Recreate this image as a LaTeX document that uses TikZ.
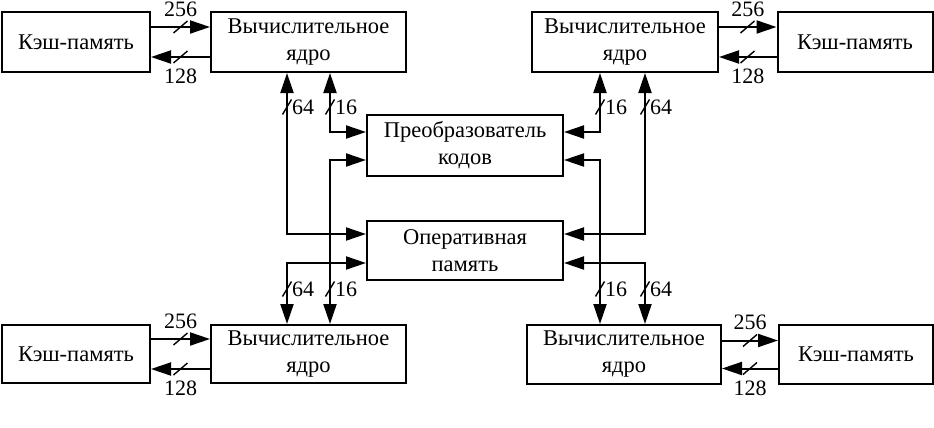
\documentclass[tikz,border=0pt]{standalone}
\usepackage{fontspec}
\setmainfont{Liberation Serif}
\usetikzlibrary{arrows.meta}
\tikzset{
	block/.style={draw, line width=2pt, inner sep=0pt, align=center, font=\fontsize{22.5}{27}\selectfont},
	bus/.style={line width=2pt, -{Triangle[length=20pt,width=13pt]}},
	bibus/.style={line width=2pt, {Triangle[length=20pt,width=13pt]}-{Triangle[length=20pt,width=13pt]}},
	num/.style={inner sep=0pt, font=\fontsize{22}{24}\selectfont},
	buswidth/.style={line width=1.4pt}
}
\begin{document}
\begin{tikzpicture}[x=1pt,y=-1pt]
		\useasboundingbox (0,0) rectangle (934,428);
		% top row
		\node[block, minimum width=148pt, minimum height=60pt] (cacheTL) at (76,42) {Кэш-память};
		\node[block, minimum width=195pt, minimum height=60pt] (coreTL) at (308.5,42) {Вычислительное\\ядро};
		\node[block, minimum width=186pt, minimum height=60pt] (coreTR) at (625,42) {Вычислительное\\ядро};
		\node[block, minimum width=155pt, minimum height=60pt] (cacheTR) at (855,42) {Кэш-память};
		% middle
		\node[block, minimum width=196pt, minimum height=61pt] (pk) at (465,145.5) {Преобразователь\\кодов};
		\node[block, minimum width=196pt, minimum height=59pt] (op) at (465,250.5) {Оперативная\\память};
		% bottom row
		\node[block, minimum width=148pt, minimum height=58pt] (cacheBL) at (76,354) {Кэш-память};
		\node[block, minimum width=195pt, minimum height=58pt] (coreBL) at (308.5,354) {Вычислительное\\ядро};
		\node[block, minimum width=194pt, minimum height=59pt] (coreBR) at (624,354.5) {Вычислительное\\ядро};
		\node[block, minimum width=154pt, minimum height=59pt] (cacheBR) at (856,354.5) {Кэш-память};
		
		% cache links
		\draw[bus] ([yshift=15pt]cacheTL.east) -- ([yshift=15pt]coreTL.west) node[num, midway, above=9.5pt] (wTLa) {256};
		\draw[bus] ([yshift=-15pt]coreTL.west) -- ([yshift=-15pt]cacheTL.east) node[num, midway, below=11pt] (wTLb) {128};
		\draw[bus] ([yshift=15pt]coreTR.east) -- ([yshift=15pt]cacheTR.west) node[num, midway, above=9.5pt] (wTRa) {256};
		\draw[bus] ([yshift=-15pt]cacheTR.west) -- ([yshift=-15pt]coreTR.east) node[num, midway, below=11pt] (wTRb) {128};
		\draw[bus] ([yshift=15pt]cacheBL.east) -- ([yshift=15pt]coreBL.west) node[num, midway, above=9.5pt] (wBLa) {256};
		\draw[bus] ([yshift=-15pt]coreBL.west) -- ([yshift=-15pt]cacheBL.east) node[num, midway, below=11pt] (wBLb) {128};
		\draw[bus] ([yshift=14pt]coreBR.east) -- ([yshift=14pt]cacheBR.west) node[num, midway, above=9.5pt] (wBRa) {256};
		\draw[bus] ([yshift=-14pt]cacheBR.west) -- ([yshift=-14pt]coreBR.east) node[num, midway, below=11pt] (wBRb) {128};
		
		% core links
		\draw[bibus] ([xshift=-21.5pt]coreTL.south) |- ([yshift=16.5pt]op.west);
		\draw[bibus] ([xshift=21.5pt]coreTL.south) |- ([yshift=13.5pt]pk.west);
		\draw[bibus] ([yshift=-14.5pt]pk.west) -| ([xshift=21.5pt]coreBL.north);
		\draw[bibus] ([yshift=-12.5pt]op.west) -| ([xshift=-21.5pt]coreBL.north);
		\draw[bibus] ([xshift=-25pt]coreTR.south) |- ([yshift=13.5pt]pk.east);
		\draw[bibus] ([xshift=20pt]coreTR.south) |- ([yshift=16.5pt]op.east);
		\draw[bibus] ([yshift=-14.5pt]pk.east) -| ([xshift=-24pt]coreBR.north);
		\draw[bibus] ([yshift=-12.5pt]op.east) -| ([xshift=21pt]coreBR.north);
		
		% bus width marks
		\foreach \x/\y in {180.5/27, 180.5/57, 747.5/27, 747.5/57, 180.5/339, 180.5/369, 750/340.5, 750/368.5}{
			\draw[buswidth] (\x-7,\y+6) -- (\x+7,\y-6);
		}
		\foreach \x/\y/\w in {287/107/64, 330/107/16, 600/107/16, 645/107/64, 287/289/64, 330/289/16, 600/289/16, 645/289/64}{
			\draw[buswidth] (\x-4.5,\y+7.5) -- (\x+4.5,\y-7.5);
			\node[num, anchor=west] (w\x-\y) at (\x+5,\y) {\w};
		}
\end{tikzpicture}
\end{document}
